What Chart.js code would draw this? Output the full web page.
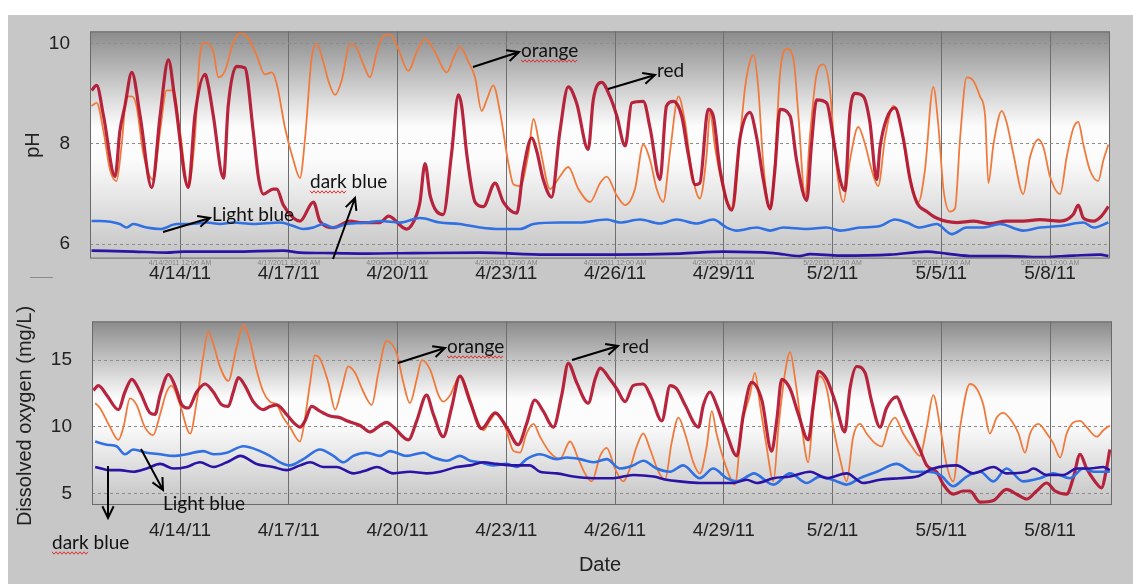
<!DOCTYPE html>
<html>
<head>
<meta charset="utf-8">
<script src="https://cdn.jsdelivr.net/npm/chart.js@4.4.0/dist/chart.umd.min.js"></script>
<style>
  html, body { margin: 0; padding: 0; background: #fff; }
  #page { position: relative; width: 1133px; height: 584px; overflow: hidden; background: #fff; }
  #frame { position: absolute; left: 8px; top: 15px; right: 0; bottom: 0; background: #c7c7c7; }
  #phChart { position: absolute; left: 0; top: 0; }
  #doChart { position: absolute; left: 0; top: 290px; }
</style>
</head>
<body>
<div id="page">
  <div id="frame"></div>
  <canvas id="phChart" width="1133" height="290"></canvas>
  <canvas id="doChart" width="1133" height="294"></canvas>
</div>
<script>
// x values are day of April 2011 (32 = 5/2)
const dateTicks = [14, 17, 20, 23, 26, 29, 32, 35, 38];
const dateLabels = ["4/14/11", "4/17/11", "4/20/11", "4/23/11", "4/26/11", "4/29/11", "5/2/11", "5/5/11", "5/8/11"];
const tinyLabels = ["4/14/2011 12:00 AM", "4/17/2011 12:00 AM", "4/20/2011 12:00 AM", "4/23/2011 12:00 AM", "4/26/2011 12:00 AM", "4/29/2011 12:00 AM", "5/2/2011 12:00 AM", "5/5/2011 12:00 AM", "5/8/2011 12:00 AM"];
const phTicks = [6, 8, 10];
const doTicks = [5, 10, 15];

// pH
const phRed = [[11.56,9.07],[11.70,9.17],[11.89,8.56],[12.21,7.35],[12.34,8.25],[12.48,8.76],[12.67,9.43],[12.90,8.56],[13.22,7.13],[13.45,8.56],[13.68,9.68],[13.86,8.88],[14.23,7.13],[14.41,8.56],[14.69,9.39],[14.78,9.17],[14.92,8.56],[15.20,7.32],[15.33,8.76],[15.56,9.55],[15.79,9.52],[16.02,8.25],[16.16,7.35],[16.30,7.00],[16.57,7.10],[16.67,7.10],[16.85,6.78],[17.13,6.52],[17.31,6.46],[17.68,6.84],[17.86,6.46],[18.23,6.33],[18.69,6.46],[18.97,6.43],[19.52,6.43],[19.75,6.56],[20.25,6.30],[20.53,6.59],[20.62,6.84],[20.76,7.61],[20.90,6.97],[21.26,6.59],[21.49,7.80],[21.68,8.98],[21.77,8.76],[21.91,7.80],[22.14,6.84],[22.37,6.75],[22.69,7.22],[22.92,6.84],[23.29,6.62],[23.47,7.48],[23.70,8.12],[23.84,7.86],[24.02,7.29],[24.25,6.94],[24.48,8.25],[24.71,9.14],[24.94,8.82],[25.26,7.89],[25.40,8.88],[25.63,9.23],[25.86,8.95],[26.05,8.56],[26.28,7.96],[26.46,8.82],[26.78,8.85],[26.97,8.31],[27.24,7.29],[27.42,8.76],[27.61,8.85],[27.84,8.56],[28.02,7.80],[28.21,7.19],[28.34,7.22],[28.57,8.69],[28.71,8.56],[28.90,7.48],[29.22,6.68],[29.45,8.12],[29.72,8.63],[29.91,8.12],[30.09,7.29],[30.28,6.71],[30.41,7.48],[30.55,8.69],[30.83,8.56],[31.01,7.67],[31.29,6.87],[31.42,7.99],[31.56,8.88],[31.84,8.82],[32.02,8.12],[32.21,7.29],[32.34,7.07],[32.48,8.63],[32.62,9.01],[32.85,8.95],[33.03,8.44],[33.22,7.29],[33.31,7.93],[33.49,8.50],[33.72,8.72],[33.95,8.12],[34.14,7.29],[34.32,6.84],[34.60,6.65],[34.87,6.52],[35.42,6.43],[35.88,6.46],[36.34,6.41],[36.80,6.46],[37.26,6.46],[37.72,6.49],[38.28,6.46],[38.64,6.59],[38.78,6.78],[38.92,6.52],[39.20,6.46],[39.42,6.56],[39.61,6.75]];
const phOrange = [[11.56,8.76],[11.70,8.82],[11.89,8.25],[12.07,7.48],[12.25,7.26],[12.39,7.99],[12.53,8.95],[12.67,8.95],[12.80,8.76],[12.99,7.80],[13.26,7.29],[13.45,8.25],[13.63,9.07],[13.82,9.07],[14.00,8.25],[14.23,7.16],[14.41,8.12],[14.55,9.78],[14.69,10.03],[14.92,9.84],[15.06,9.33],[15.24,9.46],[15.47,10.03],[15.66,10.22],[15.89,10.10],[16.11,9.78],[16.34,9.39],[16.53,9.43],[16.67,9.20],[16.90,8.31],[17.13,7.67],[17.31,7.32],[17.45,8.12],[17.63,9.71],[17.77,10.00],[17.95,9.65],[18.09,9.27],[18.28,8.98],[18.46,9.27],[18.69,10.00],[18.83,9.97],[19.06,9.59],[19.24,9.33],[19.43,9.84],[19.61,10.16],[19.79,10.19],[20.02,9.90],[20.30,9.46],[20.53,9.84],[20.76,10.10],[21.03,9.84],[21.36,9.43],[21.54,9.71],[21.72,9.94],[21.95,9.65],[22.14,9.33],[22.32,8.66],[22.46,8.88],[22.64,9.17],[22.83,8.63],[23.06,7.61],[23.20,7.19],[23.38,7.16],[23.61,7.80],[23.75,8.50],[23.93,7.93],[24.21,7.10],[24.48,7.35],[24.71,7.54],[24.99,7.10],[25.31,6.84],[25.59,7.22],[25.77,7.35],[26.05,6.97],[26.28,6.78],[26.55,7.10],[26.78,7.99],[26.97,7.67],[27.15,7.10],[27.33,6.84],[27.52,7.86],[27.75,8.95],[27.93,8.44],[28.11,7.48],[28.34,6.91],[28.53,7.80],[28.62,8.63],[28.76,7.93],[28.99,7.10],[29.26,6.71],[29.45,8.12],[29.59,9.14],[29.72,9.65],[29.82,9.78],[29.95,9.14],[30.09,7.61],[30.28,6.68],[30.41,7.61],[30.55,9.39],[30.74,9.90],[30.92,9.71],[31.06,8.56],[31.24,6.97],[31.38,8.18],[31.56,9.39],[31.75,9.59],[31.93,9.07],[32.07,7.80],[32.30,6.84],[32.48,7.67],[32.71,8.34],[32.90,7.99],[33.08,7.48],[33.26,7.16],[33.45,8.12],[33.68,8.76],[33.86,8.44],[34.09,7.48],[34.37,6.84],[34.55,7.48],[34.78,9.14],[34.92,8.37],[35.06,7.10],[35.24,6.65],[35.38,6.71],[35.52,8.12],[35.70,9.33],[35.88,9.27],[36.07,8.95],[36.21,8.56],[36.30,7.22],[36.44,7.99],[36.67,8.66],[36.80,8.44],[36.99,7.80],[37.26,7.00],[37.45,7.74],[37.68,8.09],[37.82,7.93],[38.00,7.35],[38.28,7.00],[38.46,7.74],[38.64,8.31],[38.78,8.44],[38.92,7.99],[39.10,7.48],[39.33,7.26],[39.47,7.67],[39.61,7.99]];
const phLightBlue = [[11.56,6.46],[11.79,6.46],[12.34,6.40],[12.53,6.33],[12.71,6.40],[13.08,6.33],[13.45,6.30],[13.91,6.40],[14.28,6.40],[14.74,6.43],[15.10,6.40],[15.47,6.43],[16.02,6.40],[16.76,6.43],[17.13,6.36],[17.40,6.30],[17.68,6.33],[17.95,6.40],[18.23,6.33],[18.60,6.40],[19.15,6.43],[19.52,6.46],[20.07,6.43],[20.62,6.52],[21.17,6.43],[21.72,6.40],[22.28,6.33],[22.83,6.30],[23.38,6.30],[23.75,6.40],[24.48,6.43],[25.03,6.43],[25.77,6.49],[26.14,6.43],[26.69,6.49],[27.24,6.41],[27.70,6.49],[28.25,6.41],[28.71,6.49],[29.08,6.33],[29.36,6.27],[29.91,6.33],[30.28,6.27],[30.64,6.33],[31.29,6.30],[31.84,6.33],[32.21,6.27],[32.76,6.33],[33.31,6.36],[33.72,6.49],[34.05,6.43],[34.41,6.33],[34.87,6.40],[35.29,6.20],[35.70,6.33],[36.16,6.33],[36.62,6.40],[37.26,6.27],[37.72,6.33],[38.28,6.36],[38.92,6.43],[39.20,6.33],[39.61,6.43]];
const phDarkBlue = [[11.56,5.87],[12.71,5.85],[13.63,5.83],[14.09,5.85],[15.47,5.85],[16.85,5.87],[17.31,5.83],[18.23,5.82],[19.15,5.81],[20.44,5.82],[22.28,5.83],[24.11,5.79],[25.95,5.79],[27.79,5.81],[28.99,5.85],[30.37,5.82],[31.10,5.76],[31.38,5.80],[32.21,5.77],[33.58,5.79],[34.60,5.85],[35.15,5.81],[35.88,5.76],[36.80,5.76],[37.72,5.74],[38.64,5.77],[39.38,5.79],[39.61,5.76]];

// Dissolved oxygen (mg/L)
const doRed = [[11.61,12.73],[11.75,13.09],[11.98,12.37],[12.30,11.29],[12.48,12.61],[12.67,13.56],[12.90,12.61],[13.17,11.05],[13.31,10.93],[13.45,12.37],[13.68,13.92],[13.86,13.09],[14.05,11.65],[14.23,11.41],[14.46,12.61],[14.69,13.21],[14.92,12.61],[15.15,11.65],[15.33,11.53],[15.47,12.61],[15.61,13.68],[15.79,13.09],[16.02,11.89],[16.30,11.29],[16.48,11.53],[16.67,11.65],[16.94,10.93],[17.17,10.22],[17.31,9.98],[17.45,10.45],[17.63,11.53],[17.86,11.17],[18.14,10.81],[18.41,10.69],[18.60,10.45],[18.97,10.10],[19.24,9.62],[19.52,10.10],[19.70,10.33],[19.89,9.98],[20.30,9.02],[20.53,10.45],[20.80,12.37],[20.99,10.93],[21.26,9.26],[21.49,11.41],[21.72,13.80],[22.00,11.89],[22.32,9.86],[22.69,11.05],[23.01,9.98],[23.33,8.66],[23.56,10.22],[23.79,12.01],[24.02,11.17],[24.30,9.98],[24.53,12.37],[24.71,14.76],[24.94,13.33],[25.26,11.77],[25.45,13.56],[25.59,14.40],[25.86,13.56],[26.05,12.85],[26.28,11.89],[26.50,13.09],[26.78,13.21],[27.01,12.13],[27.29,10.45],[27.52,13.09],[27.70,12.85],[27.93,11.65],[28.30,9.98],[28.44,11.65],[28.62,12.61],[28.80,11.65],[29.08,9.50],[29.36,7.82],[29.54,10.93],[29.77,13.33],[30.05,12.00],[30.32,8.18],[30.46,10.45],[30.60,13.56],[30.83,12.85],[31.06,10.93],[31.33,9.02],[31.47,11.65],[31.61,14.16],[31.84,13.56],[32.07,11.89],[32.34,9.62],[32.48,12.85],[32.67,14.52],[32.90,14.04],[33.08,11.89],[33.31,9.98],[33.49,11.41],[33.77,12.25],[33.95,11.17],[34.14,9.98],[34.41,8.30],[34.60,7.11],[34.87,6.63],[35.06,5.67],[35.33,4.95],[35.61,5.19],[35.79,5.19],[36.07,4.35],[36.44,4.47],[36.80,5.31],[37.08,4.95],[37.36,4.59],[37.63,5.19],[37.91,5.79],[38.14,5.19],[38.46,4.95],[38.64,6.15],[38.83,7.94],[39.01,6.87],[39.24,5.91],[39.42,5.43],[39.56,6.87],[39.65,8.30]];
const doOrange = [[11.66,11.77],[11.79,11.41],[12.07,9.98],[12.30,9.02],[12.44,9.98],[12.62,12.13],[12.80,11.65],[13.03,9.98],[13.26,9.38],[13.45,10.93],[13.63,12.61],[13.77,13.09],[14.00,11.65],[14.28,9.50],[14.46,11.89],[14.64,15.24],[14.78,17.15],[14.92,16.20],[15.10,14.52],[15.33,13.44],[15.56,15.96],[15.75,17.63],[15.93,16.44],[16.11,14.28],[16.30,12.61],[16.48,11.89],[16.67,11.65],[16.85,10.69],[17.03,9.98],[17.31,8.90],[17.45,10.69],[17.59,13.33],[17.72,15.36],[17.86,15.12],[18.09,13.33],[18.28,11.29],[18.46,12.85],[18.64,14.52],[18.83,14.04],[19.06,12.61],[19.29,11.65],[19.47,14.04],[19.70,16.44],[19.98,15.48],[20.16,13.33],[20.34,11.77],[20.53,13.56],[20.67,15.00],[20.90,14.28],[21.13,12.37],[21.26,11.89],[21.45,12.37],[21.72,13.80],[21.91,12.85],[22.14,10.93],[22.37,9.74],[22.55,10.45],[22.74,11.05],[22.97,9.98],[23.20,8.18],[23.38,8.06],[23.56,9.50],[23.75,10.22],[23.93,9.26],[24.21,8.06],[24.48,7.58],[24.76,8.90],[24.99,7.58],[25.17,6.51],[25.36,5.91],[25.59,7.82],[25.77,8.42],[26.00,6.87],[26.23,5.91],[26.41,6.87],[26.60,8.54],[26.78,9.50],[26.97,8.30],[27.20,6.63],[27.38,6.03],[27.56,8.78],[27.75,10.69],[27.93,9.50],[28.16,7.34],[28.34,6.51],[28.53,8.54],[28.67,11.17],[28.80,9.50],[29.08,6.87],[29.31,5.67],[29.49,9.98],[29.72,12.37],[29.86,14.04],[30.00,11.65],[30.18,8.54],[30.37,5.91],[30.51,9.98],[30.69,14.04],[30.83,15.60],[30.97,13.56],[31.15,9.98],[31.33,7.34],[31.47,11.17],[31.65,13.80],[31.84,12.85],[32.02,9.98],[32.21,7.58],[32.39,5.91],[32.57,9.26],[32.76,10.22],[32.94,9.50],[33.17,8.78],[33.36,8.54],[33.54,9.98],[33.72,10.69],[33.95,9.50],[34.18,8.54],[34.41,7.82],[34.60,9.98],[34.78,12.37],[34.97,9.98],[35.15,7.11],[35.33,5.91],[35.52,9.98],[35.79,13.21],[35.98,12.85],[36.16,11.65],[36.34,9.50],[36.53,10.69],[36.71,11.05],[36.94,10.45],[37.13,9.50],[37.31,8.06],[37.45,9.50],[37.68,10.22],[37.91,9.50],[38.09,8.78],[38.28,7.70],[38.46,9.50],[38.64,10.33],[38.83,10.45],[39.01,9.98],[39.29,9.26],[39.47,9.74],[39.65,10.10]];
const doLightBlue = [[11.66,8.90],[11.98,8.66],[12.25,8.54],[12.48,7.94],[12.71,8.30],[13.08,8.06],[13.45,7.94],[13.82,7.82],[14.18,7.94],[14.64,8.18],[14.92,7.94],[15.29,8.06],[15.75,8.54],[16.21,8.18],[16.48,7.82],[16.76,7.34],[17.03,7.11],[17.40,7.58],[17.86,8.30],[18.23,7.82],[18.51,7.34],[18.78,7.82],[19.15,8.06],[19.52,7.82],[19.79,8.18],[20.25,7.82],[20.71,8.06],[20.99,7.70],[21.36,7.46],[21.72,7.82],[22.00,7.46],[22.28,7.34],[22.64,7.11],[23.01,7.22],[23.29,6.99],[23.56,7.58],[23.93,7.94],[24.39,7.58],[24.67,7.70],[25.03,7.58],[25.40,7.34],[25.77,7.58],[26.14,6.87],[26.50,7.11],[26.78,7.46],[27.15,6.87],[27.52,6.63],[27.88,7.11],[28.34,6.15],[28.71,6.87],[29.08,6.15],[29.36,5.91],[29.72,6.39],[29.82,6.51],[30.37,5.67],[30.83,6.51],[31.29,5.79],[31.65,6.27],[32.12,5.91],[32.39,5.67],[32.76,6.15],[33.22,6.63],[33.77,7.22],[34.23,6.63],[34.60,6.63],[34.97,6.39],[35.33,5.55],[35.70,6.27],[36.07,6.63],[36.44,5.91],[36.80,6.87],[37.26,5.91],[37.72,6.15],[38.09,6.51],[38.55,6.15],[38.92,6.87],[39.20,6.63],[39.65,6.63]];
const doDarkBlue = [[11.66,6.99],[12.07,6.75],[12.34,6.75],[12.71,6.63],[13.08,6.87],[13.45,7.22],[13.82,6.87],[14.18,6.99],[14.55,7.34],[14.92,6.99],[15.38,7.46],[15.66,7.82],[16.11,7.22],[16.57,6.99],[16.94,6.75],[17.31,7.11],[17.59,7.34],[17.95,6.99],[18.32,6.99],[18.78,6.51],[19.15,6.75],[19.43,6.99],[19.88,6.51],[20.34,6.63],[20.80,6.51],[21.17,6.63],[21.63,6.99],[22.00,7.11],[22.37,7.34],[22.74,7.22],[23.20,7.11],[23.65,7.11],[23.93,6.63],[24.39,6.51],[24.85,6.27],[25.40,6.15],[25.95,6.15],[26.50,6.39],[27.06,6.27],[27.42,6.03],[27.79,5.91],[28.34,5.79],[28.80,5.79],[29.26,5.79],[29.63,6.03],[29.91,5.79],[30.37,6.15],[30.83,6.27],[31.38,6.63],[31.84,6.15],[32.39,6.51],[32.85,5.79],[33.31,6.03],[33.86,6.15],[34.32,6.27],[34.78,6.87],[35.42,7.11],[35.88,6.51],[36.44,6.99],[36.80,6.51],[37.36,6.63],[37.54,6.87],[37.91,6.39],[38.37,6.39],[38.74,6.87],[39.10,6.87],[39.47,6.99],[39.65,6.75]];

const FONT = "'Liberation Sans', Arial, sans-serif";
const NOTE_FONT = "Lato, 'Open Sans', sans-serif";

const pts = arr => arr.map(p => ({ x: p[0], y: p[1] }));

function series(dark, light, red, orange) {
  const base = { pointRadius: 0, cubicInterpolationMode: "monotone", fill: false };
  return [
    Object.assign({ label: "dark blue", data: pts(dark), borderColor: "#2a14a5", borderWidth: 2.6 }, base),
    Object.assign({ label: "light blue", data: pts(light), borderColor: "#3070e2", borderWidth: 2.6 }, base),
    Object.assign({ label: "red", data: pts(red), borderColor: "rgba(178,18,46,0.92)", borderWidth: 3.2 }, base),
    Object.assign({ label: "orange", data: pts(orange), borderColor: "#f07a3c", borderWidth: 1.8 }, base),
  ];
}

function arrow(ctx, x1, y1, x2, y2) {
  const a = Math.atan2(y2 - y1, x2 - x1), h = 13;
  ctx.beginPath();
  ctx.moveTo(x1, y1);
  ctx.lineTo(x2, y2);
  ctx.moveTo(x2 - h * Math.cos(a - 0.45), y2 - h * Math.sin(a - 0.45));
  ctx.lineTo(x2, y2);
  ctx.lineTo(x2 - h * Math.cos(a + 0.45), y2 - h * Math.sin(a + 0.45));
  ctx.stroke();
}

function squiggle(ctx, x1, x2, y) {
  ctx.save();
  ctx.strokeStyle = "#e03030";
  ctx.lineWidth = 1;
  ctx.beginPath();
  for (let x = x1, i = 0; x <= x2; x += 2, i++) {
    const yy = y + (i % 2 ? 1.2 : -1.2);
    if (i === 0) ctx.moveTo(x, yy); else ctx.lineTo(x, yy);
  }
  ctx.stroke();
  ctx.restore();
}

// plot background, frame and hand-drawn notes
const decor = {
  id: "decor",
  beforeDraw(chart) {
    const { ctx, chartArea: a } = chart;
    const g = ctx.createLinearGradient(0, a.top, 0, a.bottom);
    g.addColorStop(0, "#8b8b8b");
    g.addColorStop(0.42, "#fcfcfc");
    g.addColorStop(0.56, "#fcfcfc");
    g.addColorStop(1, "#c3c3c3");
    ctx.save();
    ctx.fillStyle = g;
    ctx.fillRect(a.left, a.top, a.right - a.left, a.bottom - a.top);
    ctx.restore();
  },
  afterDraw(chart, args, opts) {
    const { ctx, chartArea: a } = chart;
    ctx.save();
    ctx.strokeStyle = "#6a6a6a";
    ctx.lineWidth = 1;
    ctx.strokeRect(a.left + 0.5, a.top + 0.5, a.right - a.left - 1, a.bottom - a.top - 1);

    // axis titles
    ctx.fillStyle = "#222";
    ctx.font = "20px " + FONT;
    ctx.textAlign = "center";
    ctx.textBaseline = "middle";
    ctx.save();
    ctx.translate(opts.yTitle.x, opts.yTitle.y);
    ctx.rotate(-Math.PI / 2);
    ctx.fillText(opts.yTitle.text, 0, 0);
    ctx.restore();
    if (opts.xTitle) ctx.fillText(opts.xTitle.text, opts.xTitle.x, opts.xTitle.y);

    if (opts.tiny) {
      const xs = chart.scales.x;
      ctx.font = "7px " + FONT;
      ctx.fillStyle = "rgba(110,110,110,0.75)";
      dateTicks.forEach((d, i) => ctx.fillText(tinyLabels[i], xs.getPixelForValue(d), a.bottom + 4));
      ctx.strokeStyle = "#8a8a8a";
      ctx.beginPath();
      ctx.moveTo(30, 277.5);
      ctx.lineTo(53, 277.5);
      ctx.stroke();
    }

    // notes
    ctx.strokeStyle = "#000";
    ctx.lineWidth = 2;
    ctx.fillStyle = "#111";
    ctx.font = "19px " + NOTE_FONT;
    ctx.textAlign = "left";
    ctx.textBaseline = "alphabetic";
    opts.notes.forEach(n => {
      arrow(ctx, n.from[0], n.from[1], n.to[0], n.to[1]);
      ctx.fillText(n.text, n.x, n.y);
      if (n.wavy) squiggle(ctx, n.x, n.x + ctx.measureText(n.wavy).width, n.y + 4);
    });
    ctx.restore();
  }
};

function options(xr, yr, yTicks, w, xh, pad, tickPad, decorOpts) {
  return {
    responsive: false,
    animation: false,
    layout: { padding: pad },
    plugins: { legend: { display: false }, tooltip: { enabled: false }, decor: decorOpts },
    scales: {
      x: {
        type: "linear", min: xr[0], max: xr[1],
        afterFit: s => { s.height = xh; },
        afterBuildTicks: s => { s.ticks = dateTicks.map(v => ({ value: v })); },
        ticks: { padding: tickPad, color: "#222", font: { size: 19, family: FONT }, maxRotation: 0, autoSkip: false,
                 callback: (v, i) => dateLabels[i] },
        grid: { color: "#6e6e6e", lineWidth: 1, drawTicks: false },
        border: { display: false }
      },
      y: {
        min: yr[0], max: yr[1],
        afterFit: s => { s.width = w; },
        afterBuildTicks: s => { s.ticks = yTicks.map(v => ({ value: v })); },
        ticks: { padding: 20, color: "#222", font: { size: 19, family: FONT } },
        grid: { color: "#8c8c8c", lineWidth: 1, drawTicks: false },
        border: { display: false, dash: [3, 3] }
      }
    }
  };
}

new Chart(document.getElementById("phChart"), {
  type: "line",
  data: { datasets: series(phDarkBlue, phLightBlue, phRed, phOrange) },
  options: options([11.517, 39.655], [5.71, 10.25], phTicks, 90, 31,
    { left: 0, top: 22, right: 23, bottom: 0 }, 4,
    {
      yTitle: { text: "pH", x: 33, y: 145 },
      tiny: true,
      notes: [
        { text: "orange", x: 521, y: 57, from: [473, 67], to: [519, 52], wavy: "orange" },
        { text: "red", x: 657, y: 77, from: [608, 89], to: [655, 75] },
        { text: "dark blue", x: 310, y: 188, from: [333, 259], to: [355, 198], wavy: "dark" },
        { text: "Light blue", x: 212, y: 221, from: [163, 232], to: [210, 218] }
      ]
    }),
  plugins: [decor]
});

// bottom canvas starts at page y = 290
new Chart(document.getElementById("doChart"), {
  type: "line",
  data: { datasets: series(doDarkBlue, doLightBlue, doRed, doOrange) },
  options: options([11.572, 39.71], [4.14, 17.9], doTicks, 92, 79,
    { left: 0, top: 23, right: 21, bottom: 0 }, 14,
    {
      yTitle: { text: "Dissolved oxygen (mg/L)", x: 25, y: 126 },
      xTitle: { text: "Date", x: 600, y: 275 },
      notes: [
        { text: "orange", x: 447, y: 63, from: [398, 73], to: [445, 58], wavy: "orange" },
        { text: "red", x: 622, y: 63, from: [572, 70], to: [618, 56] },
        { text: "Light blue", x: 163, y: 220, from: [141, 159], to: [163, 200] },
        { text: "dark blue", x: 52, y: 259, from: [108, 176], to: [108, 228], wavy: "dark" }
      ]
    }),
  plugins: [decor]
});
</script>
</body>
</html>
